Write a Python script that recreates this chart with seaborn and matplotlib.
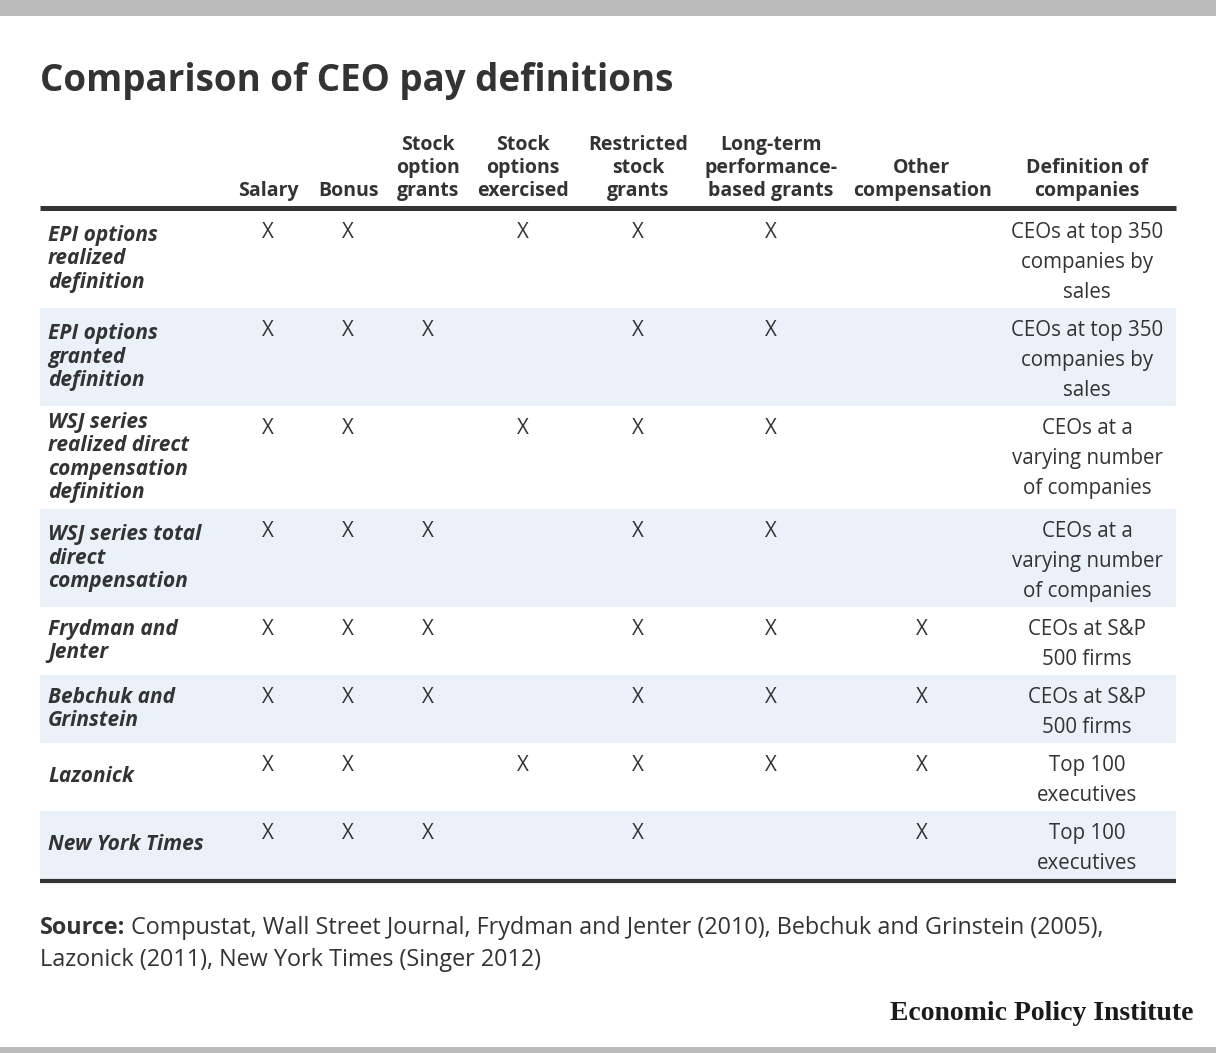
import matplotlib
matplotlib.use("Agg")
import matplotlib.pyplot as plt
import matplotlib.transforms as mtransforms
import seaborn as sns

# ---------------- data ----------------
columns = ["Salary", "Bonus", "Stock\noption\ngrants", "Stock\noptions\nexercised",
           "Restricted\nstock\ngrants", "Long-term\nperformance-\nbased grants",
           "Other\ncompensation"]
definition_header = "Definition of\ncompanies"

row_labels = [
    "EPI options\nrealized\ndefinition",
    "EPI options\ngranted\ndefinition",
    "WSJ series\nrealized direct\ncompensation\ndefinition",
    "WSJ series total\ndirect\ncompensation",
    "Frydman and\nJenter",
    "Bebchuk and\nGrinstein",
    "Lazonick",
    "New York Times",
]

# 1 = included (X), 0 = not included; order follows `columns`
included = [
    [1, 1, 0, 1, 1, 1, 0],
    [1, 1, 1, 0, 1, 1, 0],
    [1, 1, 0, 1, 1, 1, 0],
    [1, 1, 1, 0, 1, 1, 0],
    [1, 1, 1, 0, 1, 1, 1],
    [1, 1, 1, 0, 1, 1, 1],
    [1, 1, 0, 1, 1, 1, 1],
    [1, 1, 1, 0, 1, 0, 1],
]

definitions = [
    "CEOs at top 350\ncompanies by\nsales",
    "CEOs at top 350\ncompanies by\nsales",
    "CEOs at a\nvarying number\nof companies",
    "CEOs at a\nvarying number\nof companies",
    "CEOs at S&P\n500 firms",
    "CEOs at S&P\n500 firms",
    "Top 100\nexecutives",
    "Top 100\nexecutives",
]

title = "Comparison of CEO pay definitions"
source_bold = "Source:"
source_line1 = " Compustat, Wall Street Journal, Frydman and Jenter (2010), Bebchuk and Grinstein (2005),"
source_line2 = "Lazonick (2011), New York Times (Singer 2012)"
brand = "Economic Policy Institute"

# ---------------- style ----------------
sns.set_theme(style="white")
plt.rcParams["font.family"] = ["Open Sans", "DejaVu Sans"]

TEXT = "#333333"
BAND = "#eaf1f9"
GREY = "#bbbbbb"

W, H = 1216, 1053
fig = plt.figure(figsize=(W / 100, H / 100), dpi=100)
ax = fig.add_axes([0, 0, 1, 1])
ax.set_xlim(0, W)
ax.set_ylim(H, 0)
ax.axis("off")

# frame bars
ax.axhspan(0, 16, color=GREY, lw=0)
ax.axhspan(1047, H, color=GREY, lw=0)

# title
ax.text(40, 81, title, fontsize=26.5, fontweight="bold", color=TEXT, va="center", ha="left")

left, right = 40, 1176
col_x = [268, 348, 428, 523, 638, 771, 922]
def_x = 1087
FS_HEAD = 14.0
FS_BODY = 14.8
FS_LAB = 15.0

# header
for cx, name in zip(col_x, columns):
    ax.text(cx, 201, name, fontsize=FS_HEAD, fontweight="bold", color=TEXT,
            ha="center", va="bottom", linespacing=1.2)
ax.text(def_x, 201, definition_header, fontsize=FS_HEAD, fontweight="bold", color=TEXT,
        ha="center", va="bottom", linespacing=1.2)

# rows
top = 210
row_tops = []
for lab, d in zip(row_labels, definitions):
    nlab = lab.count("\n") + 1
    ndef = d.count("\n") + 1
    h = max(30 * ndef + 8, 24 * nlab + 7)
    row_tops.append((top, h))
    top += h
table_bottom = top

for i, ((rt, h), lab, flags, d) in enumerate(zip(row_tops, row_labels, included, definitions)):
    if i % 2 == 1:
        ax.fill_between([left, right], rt, rt + h, color=BAND, lw=0)
    ax.text(48, rt + h / 2, lab, fontsize=FS_LAB, fontweight="bold", fontstyle="italic",
            color=TEXT, ha="left", va="center", linespacing=1.16)
    for cx, f in zip(col_x, flags):
        if f:
            ax.text(cx, rt + 28, "X", fontsize=FS_BODY, color=TEXT, ha="center", va="baseline")
    for k, line in enumerate(d.split("\n")):
        ax.text(def_x, rt + 28 + 30 * k, line, fontsize=FS_BODY, color=TEXT,
                ha="center", va="baseline")

# rules
ax.plot([left, right], [208, 208], color=TEXT, lw=3.6, solid_capstyle="butt")
ax.plot([left, right], [table_bottom + 2, table_bottom + 2], color=TEXT, lw=3.0,
        solid_capstyle="butt")

# source
fig.canvas.draw()
renderer = fig.canvas.get_renderer()
FS_SRC = 16.8
t = ax.text(40, 934, source_bold, fontsize=FS_SRC, fontweight="bold", color=TEXT,
            ha="left", va="baseline")
bb = t.get_window_extent(renderer=renderer)
ax.text(bb.x1, 934, source_line1, fontsize=FS_SRC, color=TEXT,
        ha="left", va="baseline",
        transform=mtransforms.blended_transform_factory(
            mtransforms.IdentityTransform(), ax.transData))
ax.text(40, 966, source_line2, fontsize=FS_SRC, color=TEXT, ha="left", va="baseline")

# brand
ax.text(1193, 1013, brand, fontsize=20, fontweight="bold", color="#1a1a1a",
        family=["Liberation Serif", "DejaVu Serif"], ha="right", va="center")

fig.savefig("out.png", dpi=100)
